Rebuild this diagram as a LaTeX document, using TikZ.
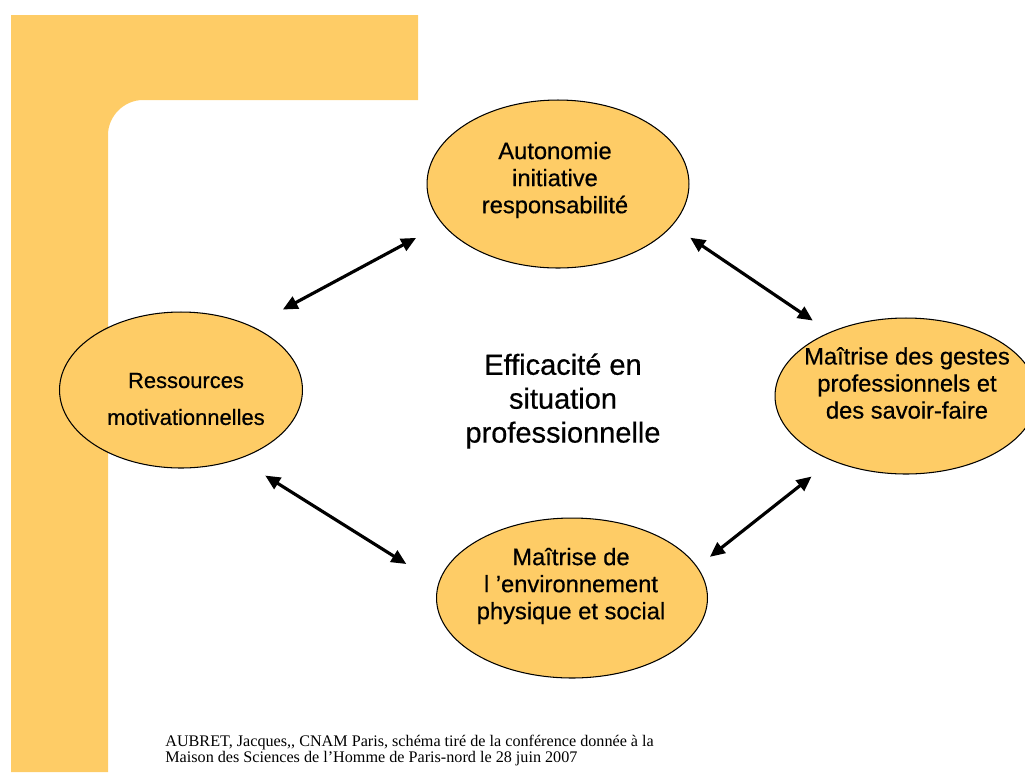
\documentclass[tikz,border=0pt]{standalone}
\usepackage{fontspec}
\setmainfont{Liberation Sans}
\newfontfamily\epais{Liberation Sans}[FakeBold=0.5]
\newfontfamily\refsfont{Liberation Serif}
\usetikzlibrary{shapes.geometric,arrows.meta}
\definecolor{ocre}{HTML}{FECC66}

\begin{document}
\begin{tikzpicture}[x=0.02cm,y=-0.02cm,
    bulle/.style={ellipse,draw,line width=0.6pt,fill=ocre,inner sep=0pt},
    txt/.style={align=center,font=\epais\fontsize{13.5}{15.4}\selectfont},
    fleche/.style={line width=1.8pt,{Triangle[length=8.5pt,width=7.5pt]}-{Triangle[length=8.5pt,width=7.5pt]}}]
  \clip (0,0) rectangle (1025,772);

  % bandeau du fond
  \fill[ocre] (11,15) -- (418,15) -- (418,100) -- (143,100)
    .. controls (124,100) and (108,116) .. (108,135) -- (108,772) -- (11,772) -- cycle;

  % les quatre bulles
  \node[bulle,minimum width=5.24cm,minimum height=3.36cm] (auto) at (558,184) {};
  \node[bulle,minimum width=4.86cm,minimum height=3.12cm] (ressources) at (181,390) {};
  \node[bulle,minimum width=5.24cm,minimum height=3.12cm] (gestes) at (906,396) {};
  \node[bulle,minimum width=5.42cm,minimum height=3.2cm] (environnement) at (572,598) {};

  \node[txt] (autotxt) at (555,180) {Autonomie\\initiative\\responsabilité};
  \node[align=center,font=\epais\fontsize{12.5}{21}\selectfont] (ressourcestxt) at (186,399) {Ressources\\motivationnelles};
  \node[txt] (gestestxt) at (907,383) {Maîtrise des gestes\\professionnels et\\des savoir-faire};
  \node[txt] (environnementtxt) at (571,586) {Maîtrise de\\l ’environnement\\physique et social};

  \node[align=center,font=\epais\fontsize{16.5}{19.3}\selectfont] (efficacite) at (563,401) {Efficacité en\\situation\\professionnelle};

  % fleches
  \draw[fleche,shorten <=0.7cm,shorten >=0.59cm] (ressources.42) -- (auto.199);
  \draw[fleche,shorten <=0.43cm,shorten >=0.41cm] (auto.340) -- (gestes.140);
  \draw[fleche,shorten <=0.51cm,shorten >=0.32cm] (gestes.221) -- (environnement.14);
  \draw[fleche,shorten <=0.62cm,shorten >=0.75cm] (ressources.310) -- (environnement.174);

  % source
  \node[anchor=north west,align=left,inner sep=0pt,font=\refsfont\fontsize{9.2}{9.2}\selectfont] (source) at (165,735)
    {AUBRET, Jacques,, CNAM Paris, schéma tiré de la conférence donnée à la\\Maison des Sciences de l’Homme de Paris-nord le 28 juin 2007};
\end{tikzpicture}
\end{document}
